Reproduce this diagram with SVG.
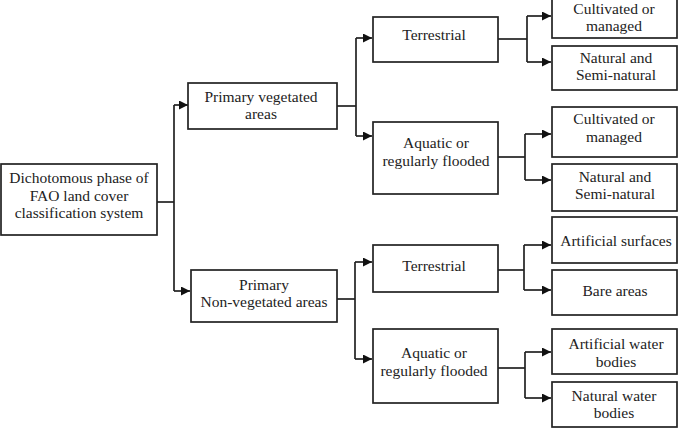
<svg xmlns="http://www.w3.org/2000/svg" width="684" height="432" viewBox="0 0 684 432">
<style>
.box{fill:#fff;stroke:#222;stroke-width:1.7}
text{font-family:"Liberation Serif","Times New Roman",serif;font-size:15.5px;fill:#222;text-anchor:middle}
.c{fill:none;stroke:#222;stroke-width:1.7}
</style>
<defs>
<marker id="ah" viewBox="0 0 10 10" refX="10" refY="5" markerWidth="10" markerHeight="9" markerUnits="userSpaceOnUse" orient="auto">
<path d="M0,0 L10,5 L0,10 z" fill="#111"/>
</marker>
</defs>
<rect width="684" height="432" fill="#fff"/>
<g id="connectors">
<path class="c" d="M157,202 H174"/>
<path class="c" d="M174,105 V291"/>
<path class="c" d="M174,105 H188" marker-end="url(#ah)"/>
<path class="c" d="M174,291 H190" marker-end="url(#ah)"/>
<path class="c" d="M337,106 H356"/>
<path class="c" d="M356,38 V136"/>
<path class="c" d="M356,38 H372" marker-end="url(#ah)"/>
<path class="c" d="M356,136 H372" marker-end="url(#ah)"/>
<path class="c" d="M337,299 H355"/>
<path class="c" d="M355,262 V359"/>
<path class="c" d="M355,262 H372" marker-end="url(#ah)"/>
<path class="c" d="M355,359 H372" marker-end="url(#ah)"/>
<path class="c" d="M498,39 H527"/>
<path class="c" d="M527,16 V62"/>
<path class="c" d="M527,16 H551" marker-end="url(#ah)"/>
<path class="c" d="M527,62 H551" marker-end="url(#ah)"/>
<path class="c" d="M498,157 H525"/>
<path class="c" d="M525,134 V180"/>
<path class="c" d="M525,134 H551" marker-end="url(#ah)"/>
<path class="c" d="M525,180 H551" marker-end="url(#ah)"/>
<path class="c" d="M498,270 H524"/>
<path class="c" d="M524,245 V290"/>
<path class="c" d="M524,245 H551" marker-end="url(#ah)"/>
<path class="c" d="M524,290 H551" marker-end="url(#ah)"/>
<path class="c" d="M498,368 H525"/>
<path class="c" d="M525,352 V398"/>
<path class="c" d="M525,352 H551" marker-end="url(#ah)"/>
<path class="c" d="M525,398 H551" marker-end="url(#ah)"/>
</g>
<g id="root"><rect class="box" x="1" y="164" width="156" height="71"/>
<text x="79" y="183">Dichotomous phase of</text><text x="79" y="201">FAO land cover</text><text x="79" y="218">classification system</text></g>
<g id="veg"><rect class="box" x="188" y="83" width="149" height="46"/>
<text x="261" y="102">Primary vegetated</text><text x="261" y="119">areas</text></g>
<g id="nonveg"><rect class="box" x="191" y="270" width="146" height="52"/>
<text x="264" y="290">Primary</text><text x="264" y="307">Non-vegetated areas</text></g>
<g id="terr1"><rect class="box" x="373" y="17" width="125" height="45"/>
<text x="434" y="40">Terrestrial</text></g>
<g id="aqua1"><rect class="box" x="373" y="122" width="125" height="72"/>
<text x="436" y="148">Aquatic or</text><text x="436" y="166">regularly flooded</text></g>
<g id="terr2"><rect class="box" x="373" y="245" width="125" height="47"/>
<text x="434" y="271">Terrestrial</text></g>
<g id="aqua2"><rect class="box" x="373" y="329" width="125" height="74"/>
<text x="434" y="358">Aquatic or</text><text x="434" y="376">regularly flooded</text></g>
<g id="cult1"><rect class="box" x="552" y="-3" width="125" height="41"/>
<text x="614" y="14">Cultivated or</text><text x="614" y="31">managed</text></g>
<g id="nat1"><rect class="box" x="552" y="46" width="125" height="44"/>
<text x="616" y="63">Natural and</text><text x="616" y="80">Semi-natural</text></g>
<g id="cult2"><rect class="box" x="552" y="107" width="125" height="50"/>
<text x="614" y="124">Cultivated or</text><text x="614" y="142">managed</text></g>
<g id="nat2"><rect class="box" x="552" y="164" width="125" height="47"/>
<text x="615" y="182">Natural and</text><text x="615" y="199">Semi-natural</text></g>
<g id="artsurf"><rect class="box" x="552" y="217" width="125" height="46"/>
<text x="616" y="246">Artificial surfaces</text></g>
<g id="bare"><rect class="box" x="552" y="270" width="125" height="45"/>
<text x="615" y="296">Bare areas</text></g>
<g id="artwater"><rect class="box" x="552" y="329" width="125" height="45"/>
<text x="616" y="349">Artificial water</text><text x="616" y="367">bodies</text></g>
<g id="natwater"><rect class="box" x="552" y="382" width="125" height="45"/>
<text x="614" y="401">Natural water</text><text x="614" y="418">bodies</text></g>
</svg>
